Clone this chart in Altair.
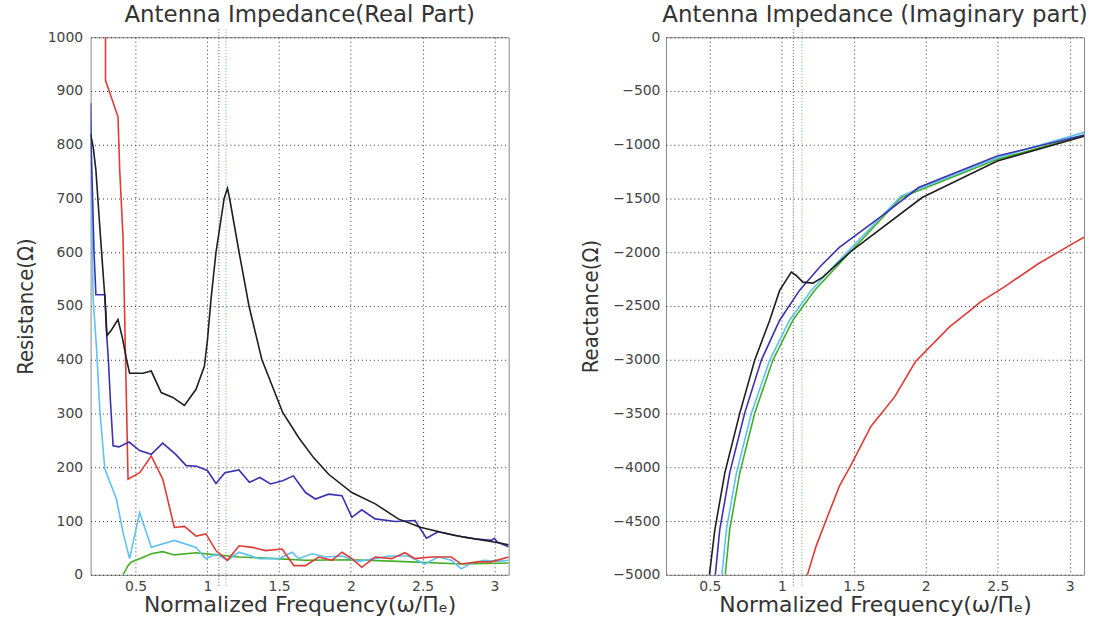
import altair as alt
import pandas as pd

# ---------------- Left panel: Resistance (real part) ----------------
re_black_x = [0.186, 0.204, 0.223, 0.25, 0.273, 0.29, 0.30, 0.33, 0.377, 0.41, 0.436, 0.458, 0.551, 0.609,
              0.678, 0.759, 0.84, 0.921, 0.979, 1.001, 1.025, 1.06, 1.117, 1.14, 1.155, 1.221, 1.29, 1.379,
              1.525, 1.637, 1.74, 1.845, 2.007, 2.17, 2.33, 2.49, 2.63, 2.79, 3.0, 3.1]
re_black_y = [820, 796, 753, 648, 562, 500, 445, 455, 475, 438, 401, 375, 375, 379,
              339, 330, 315, 345, 388, 438, 512, 600, 700, 719, 700, 600, 500, 401,
              302, 255, 218, 187, 153, 132, 104, 88, 79, 70, 61, 56]

re_blue_x = [0.186, 0.19, 0.20, 0.21, 0.223, 0.285, 0.295, 0.31, 0.325, 0.343, 0.384, 0.454, 0.528, 0.609,
             0.689, 0.779, 0.853, 0.926, 1.0, 1.06, 1.122, 1.22, 1.293, 1.366, 1.44, 1.525, 1.599, 1.684,
             1.753, 1.845, 1.938, 2.007, 2.076, 2.169, 2.31, 2.447, 2.527, 2.608, 2.724, 2.86, 2.978, 3.0,
             3.02, 3.1]
re_blue_y = [877, 800, 700, 600, 521, 521, 460, 400, 320, 240, 238, 247, 231, 224,
             245, 224, 203, 202, 194, 170, 190, 195, 172, 181, 169, 175, 184, 153,
             141, 150, 147, 107, 121, 104, 99, 101, 68, 80, 73, 67, 64, 68,
             61, 52]

re_red_x = [0.29, 0.29, 0.377, 0.389, 0.412, 0.424, 0.447, 0.528, 0.609, 0.689, 0.77, 0.84, 0.921, 0.99,
            1.06, 1.14, 1.221, 1.313, 1.406, 1.521, 1.603, 1.684, 1.776, 1.868, 1.938, 2.007, 2.076, 2.169,
            2.284, 2.377, 2.447, 2.562, 2.7, 2.77, 2.886, 2.978, 3.1]
re_red_y = [1000, 920, 852, 753, 629, 475, 178, 190, 221, 178, 88, 90, 72, 76,
            45, 27, 54, 51, 45, 48, 17, 17, 33, 27, 42, 30, 14, 33,
            30, 41, 30, 33, 33, 20, 24, 24, 33]

re_cyan_x = [0.186, 0.19, 0.195, 0.204, 0.228, 0.25, 0.285, 0.366, 0.412, 0.458, 0.528, 0.609, 0.77, 0.921,
             0.99, 1.06, 1.14, 1.221, 1.36, 1.499, 1.59, 1.637, 1.73, 1.822, 1.938, 2.053, 2.169, 2.261,
             2.4, 2.516, 2.608, 2.7, 2.77, 2.84, 2.93, 3.02, 3.1]
re_cyan_y = [840, 760, 650, 512, 419, 308, 197, 141, 79, 30, 116, 51, 64, 51,
             30, 39, 27, 42, 30, 30, 42, 30, 39, 33, 35, 25, 30, 35,
             35, 20, 33, 27, 11, 22, 27, 25, 27]

re_green_x = [0.412, 0.447, 0.47, 0.528, 0.609, 0.689, 0.77, 0.921, 1.06, 1.221, 1.406, 1.684, 2.007,
              2.33, 2.77, 3.1]
re_green_y = [0, 17, 24, 30, 39, 43, 37, 41, 37, 33, 31, 27, 28, 25, 20, 22]

# ---------------- Right panel: Reactance (imaginary part) ----------------
im_black_x = [0.497, 0.535, 0.604, 0.708, 0.812, 0.916, 0.985, 1.066, 1.1, 1.146, 1.216, 1.285,
              1.476, 1.975, 2.497, 3.1]
im_black_y = [-5000, -4577, -4052, -3496, -3003, -2632, -2355, -2185, -2216, -2278, -2287, -2231,
              -1997, -1491, -1151, -920]

im_blue_x = [0.538, 0.569, 0.638, 0.742, 0.858, 0.985, 1.123, 1.262, 1.4, 1.714, 1.95, 2.497, 3.1]
im_blue_y = [-5000, -4577, -4052, -3496, -3003, -2632, -2355, -2139, -1954, -1644, -1398, -1105, -910]

im_cyan_x = [0.584, 0.615, 0.685, 0.789, 0.916, 1.054, 1.204, 1.354, 1.83, 2.497, 3.1]
im_cyan_y = [-5000, -4577, -4052, -3496, -3003, -2632, -2355, -2139, -1475, -1120, -885]

im_green_x = [0.607, 0.638, 0.708, 0.812, 0.938, 1.077, 1.227, 1.377, 1.83, 2.497, 3.1]
im_green_y = [-5000, -4577, -4052, -3496, -3003, -2632, -2355, -2139, -1490, -1136, -915]

im_red_x = [1.17, 1.18, 1.239, 1.31, 1.4, 1.476, 1.619, 1.785, 1.928, 2.165, 2.31, 2.378, 2.544, 2.782,
            3.018, 3.1]
im_red_y = [-5000, -4990, -4731, -4484, -4176, -3991, -3620, -3343, -3019, -2694, -2540, -2463, -2324,
            -2107, -1922, -1861]

# reference vertical lines
re_vlines = [1.08, 1.13]
im_vlines = [1.08, 1.14]
vline_colors = ["#555555", "#55bb55"]

x_ticks = [0.5, 1, 1.5, 2, 2.5, 3]
re_ticks = list(range(0, 1001, 100))
im_ticks = list(range(-5000, 1, 500))

C_BLACK = "#1e1e1e"
C_BLUE = "#3b30b0"
C_RED = "#e03a35"
C_CYAN = "#5cc2f2"
C_GREEN = "#45ad25"

W, H = 420, 540
TFONT = "DejaVu Sans"
NARROW = "'DejaVu Sans Condensed', 'Liberation Sans', sans-serif"


def make_df(xs, ys):
    return pd.DataFrame({"x": xs, "y": ys, "i": list(range(len(xs)))})


def panel(series, xdom, ydom, yticks, vlines, title, ytitle, ylabpad):
    xs = alt.Scale(domain=xdom, nice=False, zero=False)
    ys = alt.Scale(domain=ydom, nice=False, zero=False)
    xaxis = alt.Axis(values=x_ticks, format="~g", title="Normalized Frequency(ω/Πₑ)", grid=True,
                     domain=False, ticks=False, labelPadding=5, titlePadding=1, labelFlush=False,
                     gridDash=[1, 3], gridColor="#333", gridOpacity=1,
                     labelFont=TFONT, labelFontSize=14, labelColor="#444",
                     titleFont=TFONT, titleFontSize=22, titleFontWeight="normal", titleColor="#333")
    yaxis = alt.Axis(values=yticks, format="d", title=ytitle, grid=True, domain=False, ticks=False,
                     labelPadding=ylabpad, titlePadding=10, labelFlush=False,
                     gridDash=[1, 3], gridColor="#333", gridOpacity=1,
                     labelFont=TFONT, labelFontSize=14, labelColor="#444",
                     titleFont=NARROW, titleFontSize=22, titleFontWeight="normal", titleColor="#333")
    layers = []
    vdf = pd.DataFrame({"x": vlines, "c": vline_colors})
    layers.append(
        alt.Chart(vdf).mark_rule(strokeDash=[1, 2], strokeWidth=1).encode(
            x=alt.X("x:Q", scale=xs, axis=xaxis),
            color=alt.Color("c:N", scale=None, legend=None),
            y=alt.value(-8), y2=alt.value(H + 12)))
    for sx, sy, col in series:
        layers.append(
            alt.Chart(make_df(sx, sy)).mark_line(color=col, strokeWidth=1.6, clip=True).encode(
                x=alt.X("x:Q", scale=xs, axis=xaxis),
                y=alt.Y("y:Q", scale=ys, axis=yaxis),
                order="i:Q"))
    return alt.layer(*layers).properties(
        width=W, height=H,
        title=alt.TitleParams(title, font=TFONT, fontSize=23, fontWeight="normal", color="#333",
                              offset=2, frame="group"))


left = panel([(re_green_x, re_green_y, C_GREEN), (re_cyan_x, re_cyan_y, C_CYAN),
              (re_red_x, re_red_y, C_RED), (re_blue_x, re_blue_y, C_BLUE),
              (re_black_x, re_black_y, C_BLACK)],
             [0.186, 3.1], [0, 1000], re_ticks, re_vlines,
             "Antenna Impedance(Real Part)", "Resistance(Ω)", 8)

right = panel([(im_red_x, im_red_y, C_RED), (im_green_x, im_green_y, C_GREEN),
               (im_cyan_x, im_cyan_y, C_CYAN), (im_blue_x, im_blue_y, C_BLUE),
               (im_black_x, im_black_y, C_BLACK)],
              [0.195, 3.1], [-5000, 0], im_ticks, im_vlines,
              "Antenna Impedance (Imaginary part)", "Reactance(Ω)", 6)

chart = alt.hconcat(left, right, spacing=70).properties(
    padding={"left": 13, "top": 2, "right": 5, "bottom": 0},
    background="white"
).configure_view(stroke="#888", strokeWidth=1)

chart.save("out.html", embed_options={"renderer": "svg", "actions": False})
